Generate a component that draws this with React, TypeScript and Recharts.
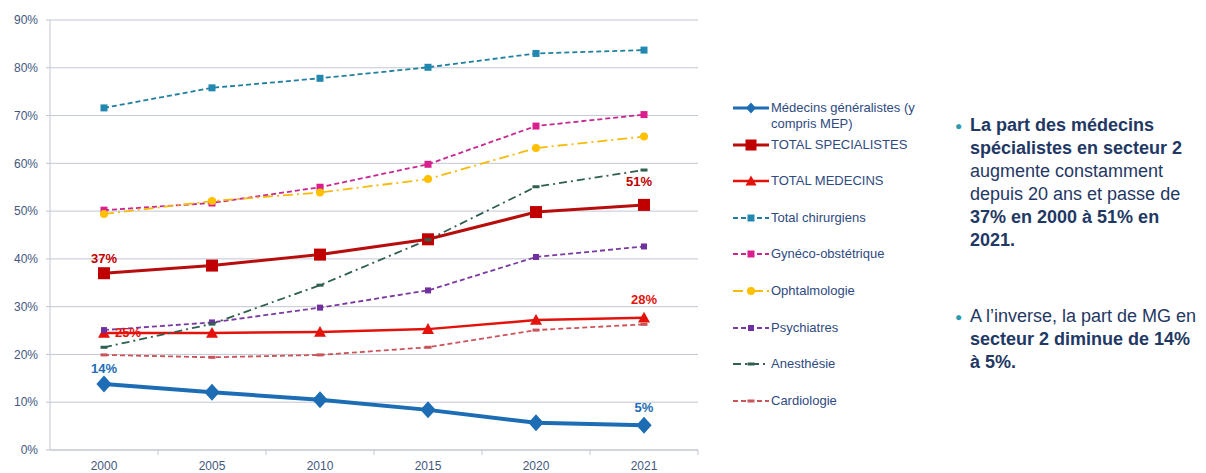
import { LineChart, Line, XAxis, YAxis, CartesianGrid, Legend } from "recharts";

const YEARS = ["2000", "2005", "2010", "2015", "2020", "2021"];

const generalistes = [13.8, 12.1, 10.5, 8.4, 5.7, 5.2];
const specialistes = [37.0, 38.6, 40.9, 44.1, 49.8, 51.3];
const totalMedecins = [24.5, 24.5, 24.7, 25.3, 27.2, 27.7];
const chirurgiens = [71.6, 75.8, 77.8, 80.1, 83.0, 83.7];
const gyneco = [50.2, 51.7, 55.0, 59.8, 67.8, 70.2];
const ophtalmo = [49.4, 52.1, 53.9, 56.7, 63.2, 65.6];
const psychiatres = [25.1, 26.7, 29.8, 33.4, 40.4, 42.6];
const anesthesie = [21.5, 26.4, 34.5, 44.0, 55.1, 58.6];
const cardiologie = [19.9, 19.4, 19.9, 21.5, 25.1, 26.3];

const Y_TICKS = [0, 10, 20, 30, 40, 50, 60, 70, 80, 90];

const FONT = '"Liberation Sans", Arial, sans-serif';
const AXIS_TEXT = "#44577f";
const GRID = "#c3c6d4";
const HALF_BAND = 54;

type Marker = "diamond" | "square" | "triangle" | "circle" | "dash";

type Series = {
  key: string;
  name: string;
  values: number[];
  color: string;
  markerColor: string;
  width: number;
  dash?: string;
  marker: Marker;
  size: number;
  labels?: { first: [number, number]; last: [number, number] };
};

const SERIES: Series[] = [
  { key: "mg", name: "Médecins généralistes (y compris MEP)", values: generalistes, color: "#1c6db4", markerColor: "#1c6db4", width: 4, marker: "diamond", size: 17, labels: { first: [0, -16], last: [0, -18] } },
  { key: "spec", name: "TOTAL SPECIALISTES", values: specialistes, color: "#b80d0d", markerColor: "#c00000", width: 3, marker: "square", size: 12, labels: { first: [0, -15], last: [-5, -23] } },
  { key: "med", name: "TOTAL MEDECINS", values: totalMedecins, color: "#e3120b", markerColor: "#e3120b", width: 2.5, marker: "triangle", size: 12, labels: { first: [24, 0], last: [0, -18] } },
  { key: "chir", name: "Total chirurgiens", values: chirurgiens, color: "#1f7f9f", markerColor: "#2288b0", width: 1.8, dash: "5 3", marker: "square", size: 7 },
  { key: "gyn", name: "Gynéco-obstétrique", values: gyneco, color: "#c8288f", markerColor: "#da1e8e", width: 1.8, dash: "5 3", marker: "square", size: 7 },
  { key: "oph", name: "Ophtalmologie", values: ophtalmo, color: "#f5bb0a", markerColor: "#ffc000", width: 1.8, dash: "10 4 2 4", marker: "circle", size: 8 },
  { key: "psy", name: "Psychiatres", values: psychiatres, color: "#7a3aa0", markerColor: "#7030a0", width: 1.8, dash: "5 3", marker: "square", size: 6 },
  { key: "ane", name: "Anesthésie", values: anesthesie, color: "#2f5f4f", markerColor: "#2f5f4f", width: 1.8, dash: "8 4 2 4", marker: "dash", size: 7 },
  { key: "card", name: "Cardiologie", values: cardiologie, color: "#c9555a", markerColor: "#c9555a", width: 1.8, dash: "5 3", marker: "dash", size: 7 },
];

const data = YEARS.map((year, i) => {
  const row: Record<string, string | number> = { year };
  SERIES.forEach((s) => {
    row[s.key] = s.values[i];
  });
  return row;
});

function markerShape(type: Marker, size: number, color: string, cx: number, cy: number, key?: string | number) {
  const h = size / 2;
  switch (type) {
    case "diamond":
      return <polygon key={key} points={`${cx},${cy - h} ${cx + h * 0.9},${cy} ${cx},${cy + h} ${cx - h * 0.9},${cy}`} fill={color} />;
    case "square":
      return <rect key={key} x={cx - h} y={cy - h} width={size} height={size} fill={color} />;
    case "triangle":
      return <polygon key={key} points={`${cx},${cy - h} ${cx + h},${cy + h * 0.8} ${cx - h},${cy + h * 0.8}`} fill={color} />;
    case "circle":
      return <circle key={key} cx={cx} cy={cy} r={h} fill={color} />;
    default:
      return <rect key={key} x={cx - h} y={cy - 1.5} width={size} height={3} fill={color} />;
  }
}

const makeDot = (s: Series) => (props: any) => {
  const { cx, cy, index } = props;
  if (cx == null || cy == null) return <g key={`${s.key}-${index}`} />;
  return markerShape(s.marker, s.size, s.markerColor, cx, cy, `${s.key}-${index}`);
};

const makeLabel = (s: Series) => (props: any) => {
  const { x, y, value, index } = props;
  if (!s.labels || (index !== 0 && index !== YEARS.length - 1)) return <g key={`l-${s.key}-${index}`} />;
  const [dx, dy] = index === 0 ? s.labels.first : s.labels.last;
  return (
    <text
      key={`l-${s.key}-${index}`}
      x={x + dx}
      y={y + dy}
      textAnchor="middle"
      dominantBaseline="central"
      fill={s.markerColor}
      fontSize={13}
      fontWeight="bold"
      fontFamily={FONT}
    >
      {`${Math.round(value)}%`}
    </text>
  );
};

const XTick = (props: any) => {
  const { x, y, payload } = props;
  return (
    <g>
      <line x1={x + HALF_BAND} y1={y} x2={x + HALF_BAND} y2={y + 5} stroke={GRID} />
      <text x={x} y={y + 11} dy="0.71em" textAnchor="middle" fill={AXIS_TEXT} fontSize={12} fontFamily={FONT}>
        {payload.value}
      </text>
    </g>
  );
};

function LegendIcon({ s }: { s: Series }) {
  return (
    <svg width={36} height={16} style={{ flex: "none" }}>
      <line x1={0} y1={8} x2={36} y2={8} stroke={s.color} strokeWidth={Math.min(s.width, 3)} strokeDasharray={s.dash} />
      {markerShape(s.marker, Math.min(s.size, 11), s.markerColor, 18, 8)}
    </svg>
  );
}

function LegendList() {
  return (
    <div style={{ fontFamily: FONT, fontSize: 13, color: "#2f4a7f" }}>
      {SERIES.map((s) => (
        <div key={s.key} style={{ display: "flex", alignItems: "flex-start", height: 36.6 }}>
          <LegendIcon s={s} />
          <span style={{ width: 160, lineHeight: "16px", marginLeft: 2 }}>{s.name}</span>
        </div>
      ))}
    </div>
  );
}

const bulletStyle = { color: "#2e9ab0", fontSize: 12, position: "absolute" as const, left: -15, top: 1 };

export default function App() {
  return (
    <div style={{ position: "absolute", left: 0, top: 0, width: 1206, height: 473, background: "#fff", fontFamily: FONT }}>
      <LineChart width={920} height={473} data={data} margin={{ top: 20, right: 222, bottom: 3, left: 0 }}>
        <CartesianGrid vertical={false} stroke={GRID} strokeWidth={1} />
        <XAxis
          dataKey="year"
          padding={{ left: HALF_BAND, right: HALF_BAND }}
          height={20}
          tickSize={0}
          tickMargin={0}
          tick={<XTick />}
          axisLine={{ stroke: GRID }}
          interval={0}
        />
        <YAxis
          domain={[0, 90]}
          ticks={Y_TICKS}
          width={50}
          tickSize={4}
          tickMargin={8}
          tickFormatter={(v: number) => `${v}%`}
          tick={{ fill: AXIS_TEXT, fontSize: 12, fontFamily: FONT }}
          axisLine={{ stroke: GRID }}
          tickLine={{ stroke: GRID }}
        />
        {SERIES.map((s) => (
          <Line
            key={s.key}
            dataKey={s.key}
            name={s.name}
            stroke={s.color}
            strokeWidth={s.width}
            strokeDasharray={s.dash}
            dot={makeDot(s)}
            activeDot={false}
            label={s.labels ? makeLabel(s) : false}
            isAnimationActive={false}
          />
        ))}
        <Legend
          layout="vertical"
          align="center"
          verticalAlign="middle"
          wrapperStyle={{ left: 733, top: 100, width: 200 }}
          content={() => <LegendList />}
        />
      </LineChart>
      <div style={{ position: "absolute", left: 970, top: 114, width: 234, fontSize: 18, lineHeight: "23px", color: "#1f3864" }}>
        <div style={{ position: "relative" }}>
          <span style={bulletStyle}>●</span>
          <b>La part des médecins spécialistes en secteur 2</b> augmente constamment depuis 20 ans et passe de{" "}
          <b>37% en 2000 à 51% en 2021.</b>
        </div>
        <div style={{ position: "relative", marginTop: 53 }}>
          <span style={bulletStyle}>●</span>
          A l’inverse, la part de MG en <b>secteur 2 diminue de 14% à 5%.</b>
        </div>
      </div>
    </div>
  );
}
